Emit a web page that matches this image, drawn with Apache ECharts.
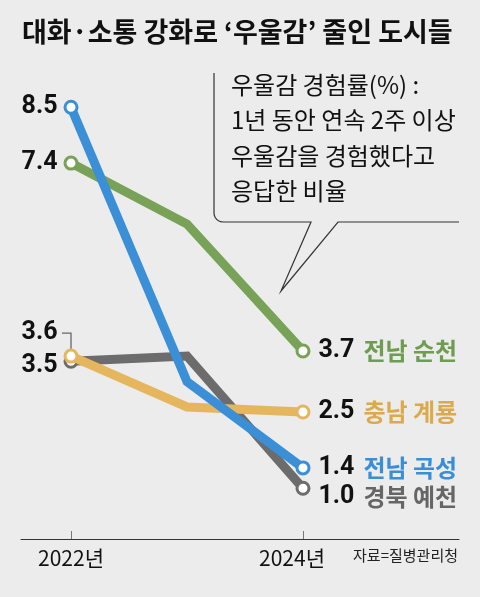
<!DOCTYPE html>
<html>
<head>
<meta charset="utf-8">
<script src="https://cdn.jsdelivr.net/npm/echarts@6/dist/echarts.min.js"></script>
<style>
html,body{margin:0;padding:0;background:#ebeceb;}
#c{width:480px;height:597px;}
</style>
</head>
<body>
<div id="c"></div>
<script>
var years = [2022, 2023, 2024];
var xTickLabels = ['2022년', '2024년'];
var xTickValues = [2022, 2024];
var regions = ['경북 예천', '충남 계룡', '전남 순천', '전남 곡성'];
var yecheon = [3.5, 3.6, 1.0];
var gyeryong = [3.6, 2.6, 2.5];
var suncheon = [7.4, 6.2, 3.7];
var gokseong = [8.5, 3.1, 1.4];
var seriesValues = [yecheon, gyeryong, suncheon, gokseong];
var titleText = '대화·소통 강화로 ‘우울감’ 줄인 도시들';
var noteLines = ['우울감 경험률(%) :', '1년 동안 연속 2주 이상', '우울감을 경험했다고', '응답한 비율'];
var sourceText = '자료=질병관리청';

var lineColors = ['#6c6c6c', '#e6b65f', '#77a258', '#3a8fd6'];
var nameColors = ['#666666', '#dcaa4c', '#6e9c50', '#3a8ed6'];
var startOffsets = [[0, 5], [0, -23], [0, 0], [0, 0]];
var endOffsets = [[0, 9], [0, 0], [0, 0], [0, 0]];

var NUM_FONT = 'Roboto, "Liberation Sans", sans-serif';
var KR_FONT = '"Noto Sans CJK KR", sans-serif';

var chart = echarts.init(document.getElementById('c'), null, {renderer: 'canvas'});

var series = seriesValues.map(function (vals, si) {
  var data = vals.map(function (v, i) {
    var item = {value: [years[i], v]};
    if (i === 0) {
      item.label = {show: true, position: 'left', distance: 6, offset: startOffsets[si],
        formatter: '{v|' + v.toFixed(1) + '}'};
    } else if (i === vals.length - 1) {
      item.label = {show: true, position: 'right', distance: 8, offset: endOffsets[si],
        formatter: '{v|' + v.toFixed(1) + '}{n' + si + '|' + regions[si] + '}'};
    } else {
      item.symbol = 'none';
    }
    return item;
  });
  var rich = {v: {fontFamily: NUM_FONT, fontWeight: 'bold', fontSize: 25, color: '#111'}};
  rich['n' + si] = {fontFamily: KR_FONT, fontWeight: 'bold', fontSize: 24, color: nameColors[si], padding: [0, 0, 0, 9]};
  return {
    type: 'line',
    name: regions[si],
    data: data,
    symbol: 'circle',
    symbolSize: 12,
    showAllSymbol: true,
    lineStyle: {color: lineColors[si], width: 9, join: 'miter'},
    itemStyle: {color: '#ffffff', borderColor: lineColors[si], borderWidth: 3},
    label: {show: false, rich: rich},
    emphasis: {disabled: true},
    z: 2 + si
  };
});

// callout outline with rounded bottom-left corner
var corner = [];
for (var k = 0; k <= 6; k++) {
  var a = Math.PI - (Math.PI / 2) * (k / 6);
  corner.push([223 + 9 * Math.cos(a), 213 + 9 * Math.sin(a)]);
}
var calloutPts = [[214, 73]].concat(corner).concat([[311, 222], [281, 291], [338, 222], [459, 222]]);

var graphics = [
  {type: 'text', left: 22, top: 18, style: {text: titleText, font: 'bold 27px "Noto Sans CJK KR"', fill: '#111'}},
  {type: 'text', left: 231, top: 67, style: {text: noteLines.join('\n'), font: '24px "Noto Sans CJK KR"', lineHeight: 35.5, fill: '#111'}},
  {type: 'polyline', shape: {points: calloutPts}, style: {fill: 'none', stroke: '#333', lineWidth: 1.2}},
  {type: 'text', right: 22, top: 548, style: {text: sourceText, font: '15px "Noto Sans CJK KR"', fill: '#222'}}
];

var option = {
  backgroundColor: '#ebeceb',
  animation: false,
  grid: {left: 21, right: 21, top: 31, bottom: 58},
  xAxis: {
    type: 'value',
    min: 2021.569,
    max: 2025.345,
    splitLine: {show: false},
    axisLine: {show: true, onZero: false, lineStyle: {color: '#333', width: 1}},
    axisTick: {show: true, inside: true, length: 8, customValues: xTickValues, lineStyle: {color: '#777', width: 1}},
    axisLabel: {
      show: true, customValues: xTickValues, margin: 9,
      formatter: function (val) {
        var idx = xTickValues.indexOf(Math.round(val));
        return idx === 0 ? '{a|' + xTickLabels[0] + '}' : '{b|' + xTickLabels[1] + '}';
      },
      rich: {
        a: {fontFamily: KR_FONT, fontSize: 21, color: '#111'},
        b: {fontFamily: KR_FONT, fontSize: 21, color: '#111', padding: [0, 22, 0, 0]}
      }
    }
  },
  yAxis: {type: 'value', min: 0, max: 10, show: false},
  graphic: graphics,
  series: series
};
chart.setOption(option);

// leader line for the 3.6 start label (computed from data)
var p = chart.convertToPixel({gridIndex: 0}, [years[0], gyeryong[0]]);
chart.setOption({graphic: graphics.concat([
  {type: 'polyline', shape: {points: [[p[0] - 9, p[1] - 23], [p[0], p[1] - 23], [p[0], p[1] - 5]]},
    style: {fill: 'none', stroke: '#666', lineWidth: 1.3}, z: 1}
])});
</script>
</body>
</html>
